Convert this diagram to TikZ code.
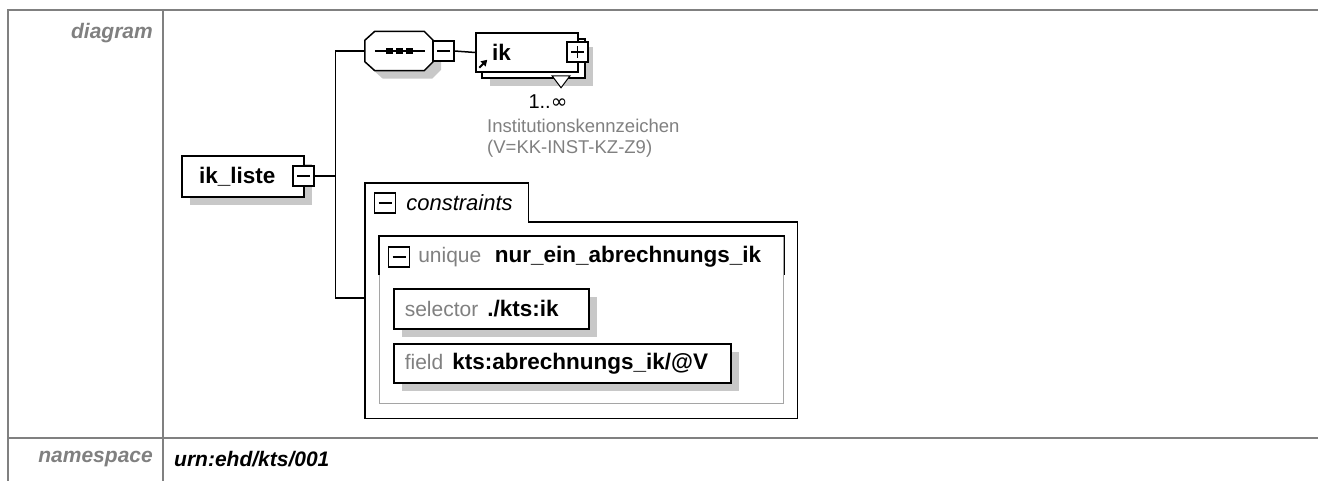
\documentclass[tikz,border=0pt]{standalone}
\usepackage{fontspec}
\setmainfont{Liberation Sans}
\newfontfamily\symfont{DejaVu Sans}
\usepackage{xcolor}
\usepackage{tikz}
\usetikzlibrary{positioning,shadows,calc,arrows.meta}

\definecolor{framegray}{RGB}{128,128,128}
\definecolor{labelgray}{RGB}{128,128,128}
\definecolor{shadegray}{RGB}{200,200,200}
\definecolor{softgray}{RGB}{165,165,165}

\tikzset{
  elem/.style={draw, fill=white, line width=1.5pt,
    drop shadow={shadow xshift=8pt, shadow yshift=-8pt, fill=shadegray, opacity=1}},
  minus/.style={draw, fill=white, line width=1.2pt, minimum width=21pt, minimum height=20pt,
    path picture={\draw[black, line width=1.2pt] ([xshift=4pt]path picture bounding box.west) -- ([xshift=-4pt]path picture bounding box.east);}},
  plus/.style={draw, fill=white, line width=1.2pt, minimum width=21pt, minimum height=20pt,
    path picture={\draw[black, line width=1.2pt] ([xshift=4pt]path picture bounding box.west) -- ([xshift=-4pt]path picture bounding box.east)
      ([yshift=-4pt]path picture bounding box.north) -- ([yshift=4pt]path picture bounding box.south);}},
  wire/.style={line width=1.5pt},
  boldlbl/.style={font=\fontsize{22.5}{26}\selectfont\bfseries},
  kindlbl/.style={font=\fontsize{21}{25}\selectfont, text=labelgray},
  rowlbl/.style={font=\fontsize{21}{25}\selectfont\bfseries\itshape}
}

\begin{document}
\begin{tikzpicture}[x=1pt, y=-1pt, every node/.style={inner sep=0pt}]
    \useasboundingbox (0,0) rectangle (1318,480);

    % Table frame
    \draw[framegray, line width=2pt] (8,481) -- (8,10) -- (1318,10);
    \draw[framegray, line width=2pt] (163,10) -- (163,481);
    \draw[framegray, line width=2pt] (8,438) -- (1318,438);
    \node[rowlbl, text=labelgray, anchor=east] (diaglbl) at (153,33) {diagram};
    \node[rowlbl, text=labelgray, anchor=east] (nslbl) at (153,459) {namespace};
    \node[rowlbl, anchor=west] (nsval) at (174,459) {urn:ehd/kts/001};

    % Root element
    \node[elem, boldlbl, minimum width=122pt, minimum height=41pt, text width=88pt, align=left] (liste) at (243,176.5) {ik\_liste};
    \node[minus] (lt) at (303.5,176) {};

    % Sequence and child element
    \node[minimum width=68pt, minimum height=39pt] (seq) at (399,51) {};
    \draw[elem] ($(seq.north west)+(0,9)$) -- ($(seq.north west)+(10,0)$) -- ($(seq.north east)+(-9,0)$) -- ($(seq.north east)+(0,9)$)
      -- ($(seq.south east)+(0,-9)$) -- ($(seq.south east)+(-9,0)$) -- ($(seq.south west)+(10,0)$) -- ($(seq.south west)+(0,-9)$) -- cycle;
    \draw[wire] ($(seq.west)+(10,0)$) -- ($(seq.east)+(-8,0)$);
    \foreach \dx in {-10,0,10}
      \fill ($(seq.center)+(\dx-3,-3)$) rectangle ++(6.5,6);
    \node[minus] (st) at (443.5,51) {};

    \node[elem, minimum width=103pt, minimum height=39pt] (ikback) at (533.5,58.5) {};
    \node[draw, fill=white, line width=1.5pt, boldlbl, minimum width=102pt, minimum height=39pt, text width=70pt, align=left] (ik) at (527,52.5) {ik};
    \draw[fill=white, line width=1pt] ($(ikback.south)+(18.5,-3)$) -- ++(18,0) -- ++(-9,12) -- cycle;
    \draw[-{Triangle[length=6pt,width=7pt]}, line width=2pt] ($(ik.south west)+(4,-5)$) -- ++(8,-8);
    \node[plus] (ikt) at (577.5,52) {};

    \node[font=\fontsize{20}{24}\selectfont] (card) at (548,102) {1..{\symfont ∞}};
    \node[font=\fontsize{18.5}{21}\selectfont, text=labelgray, align=left, anchor=west] (iknote) at (487,138) {Institutionskennzeichen\\(V=KK-INST-KZ-Z9)};

    % Constraints
    \node[anchor=north west, minimum width=163pt, minimum height=39pt] (constab) at (365,183) {};
    \node[anchor=north west, minimum width=432pt, minimum height=196pt] (cons) at (365,222) {};
    \draw[wire, fill=white] (constab.south west) |- (constab.north east) |- (cons.north east) |- (cons.south west) -- cycle;
    \node[minus] (ct) at (385,203) {};
    \node[right=10pt of ct, font=\fontsize{22}{26}\selectfont\itshape] (ctxt) {constraints};

    \node[anchor=north west, draw=softgray, line width=1.3pt, minimum width=404pt, minimum height=167pt] (uniq) at (379,236) {};
    \draw[wire] ([yshift=-39pt]uniq.north west) -- (uniq.north west) -- (uniq.north east) -- ([yshift=-39pt]uniq.north east);
    \node[minus] (ut) at (399,257) {};
    \node[right=8pt of ut, kindlbl] (ukind) {unique};
    \node[right=13pt of ukind, boldlbl] (uname) {nur\_ein\_abrechnungs\_ik};

    \node[elem, anchor=north west, minimum width=195pt, minimum height=40pt, text width=173pt, align=left] (sel) at (393,288)
      {{\fontsize{21}{25}\selectfont\color{labelgray}selector}\hspace{9pt}{\fontsize{22.5}{26}\selectfont\bfseries ./kts:ik}};
    \node[elem, anchor=north west, minimum width=337pt, minimum height=39pt, text width=315pt, align=left] (fld) at (393,343)
      {{\fontsize{21}{25}\selectfont\color{labelgray}field}\hspace{9pt}{\fontsize{22.5}{26}\selectfont\bfseries kts:abrechnungs\_ik/@V}};

    % Connectors
    \draw[wire] (lt.east) -- ++(21,0) coordinate (trunk) |- (seq.west);
    \draw[wire] (trunk) |- ([yshift=22pt]cons.west);
    \draw[wire] (st.east) -- (ik.west);
\end{tikzpicture}
\end{document}
